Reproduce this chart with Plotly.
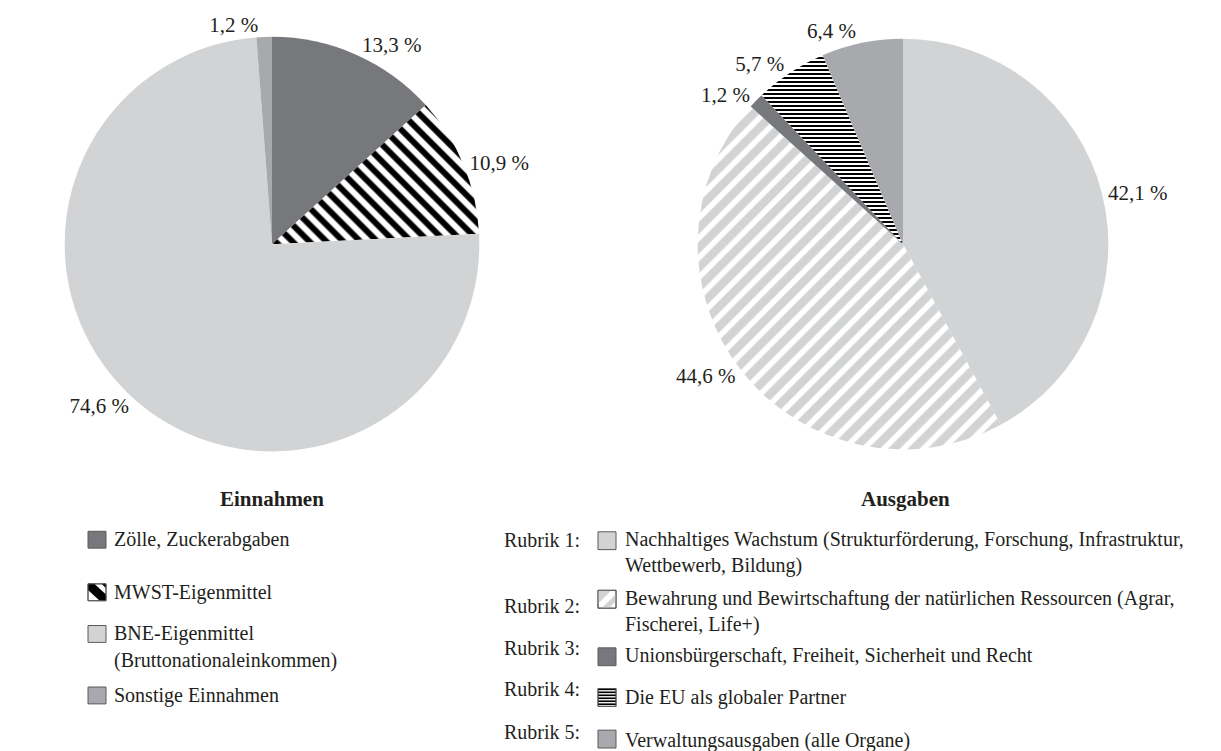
import plotly.graph_objects as go

# ---------------- data ----------------
ein_labels = ["Zölle, Zuckerabgaben", "MWST-Eigenmittel", "BNE-Eigenmittel", "Sonstige Einnahmen"]
ein_values = [13.3, 10.9, 74.6, 1.2]

aus_labels = ["Rubrik 1", "Rubrik 2", "Rubrik 3", "Rubrik 4", "Rubrik 5"]
aus_values = [42.1, 44.6, 1.2, 5.7, 6.4]

ein_title = "Einnahmen"
aus_title = "Ausgaben"

ein_legend = [["Zölle, Zuckerabgaben"], ["MWST-Eigenmittel"],
              ["BNE-Eigenmittel", "(Bruttonationaleinkommen)"], ["Sonstige Einnahmen"]]
aus_rubrik = ["Rubrik 1:", "Rubrik 2:", "Rubrik 3:", "Rubrik 4:", "Rubrik 5:"]
aus_legend = [["Nachhaltiges Wachstum (Strukturförderung, Forschung, Infrastruktur,", "Wettbewerb, Bildung)"],
              ["Bewahrung und Bewirtschaftung der natürlichen Ressourcen (Agrar,", "Fischerei, Life+)"],
              ["Unionsbürgerschaft, Freiheit, Sicherheit und Recht"],
              ["Die EU als globaler Partner"],
              ["Verwaltungsausgaben (alle Organe)"]]

# ---------------- style ----------------
OFF = 8  # default page body margin
W, H = 1221 - OFF, 751 - OFF
FONT = "Liberation Serif"
TXT = "#231f20"
DARK = "#77787b"
LIGHT = "#d1d3d4"
MID = "#a7a9ac"
LEG_SIZE = 20


def px(x):
    return (x - OFF) / W


def py(y):
    return 1 - (y - OFF) / H


def fmt(v):
    return f"{v:.1f}".replace(".", ",") + " %"


fig = go.Figure()

fig.add_trace(go.Pie(
    labels=ein_labels, values=ein_values, sort=False, direction="clockwise", rotation=0,
    text=[fmt(v) for v in ein_values], textinfo="text", textposition="outside",
    outsidetextfont=dict(family=FONT, size=21, color=TXT),
    marker=dict(colors=[DARK, "white", LIGHT, MID], line=dict(width=0),
                pattern=dict(shape=["", "\\", "", ""],
                             fgcolor=[DARK, "black", LIGHT, MID],
                             bgcolor=[DARK, "white", LIGHT, MID],
                             size=[8, 12, 8, 8], solidity=[0.5, 0.5, 0.5, 0.5])),
    domain=dict(x=[px(63), px(481)], y=[py(449), py(31)]),
    showlegend=False, hoverinfo="skip"))

fig.add_trace(go.Pie(
    labels=aus_labels, values=aus_values, sort=False, direction="clockwise", rotation=0,
    text=[fmt(v) for v in aus_values], textinfo="text", textposition="outside",
    outsidetextfont=dict(family=FONT, size=21, color=TXT),
    marker=dict(colors=[LIGHT, "white", DARK, "white", MID], line=dict(width=0),
                pattern=dict(shape=["", "/", "", "-", ""],
                             fgcolor=[LIGHT, LIGHT, DARK, "black", MID],
                             bgcolor=[LIGHT, "white", DARK, "white", MID],
                             size=[8, 14, 8, 4, 8], solidity=[0.5, 0.6, 0.5, 0.5, 0.5])),
    domain=dict(x=[px(696), px(1110)], y=[py(447), py(33)]),
    showlegend=False, hoverinfo="skip"))

annotations = []
shapes = []


def text(x, y, s, anchor="left", bold=False, size=LEG_SIZE):
    annotations.append(dict(
        x=px(x), y=py(y), xref="paper", yref="paper", xanchor=anchor, yanchor="middle",
        text=f"<b>{s}</b>" if bold else s, showarrow=False,
        font=dict(family=FONT, size=size, color=TXT)))


def rect(x0, y0, x1, y1, fill):
    shapes.append(dict(type="rect", xref="paper", yref="paper",
                       x0=px(x0), x1=px(x1), y0=py(y1), y1=py(y0),
                       fillcolor=fill, line=dict(color="#5a5a5c", width=1)))


def poly(pts, fill):
    path = "M " + " L ".join(f"{px(a)},{py(b)}" for a, b in pts) + " Z"
    shapes.append(dict(type="path", xref="paper", yref="paper", path=path,
                       fillcolor=fill, line=dict(width=0)))


# titles
text(272, 497, ein_title, anchor="center", bold=True, size=21)
text(905, 497, aus_title, anchor="center", bold=True, size=21)

# ---- left legend ----
sw_x0, sw_x1 = 88, 106
left_rows = [538, 591, 633, 695]
for i, (lines, yc) in enumerate(zip(ein_legend, left_rows)):
    y0, y1 = yc - 8.5, yc + 8.5
    s = sw_x1 - sw_x0
    if i == 1:
        rect(sw_x0, y0, sw_x1, y1, "white")
        poly([(sw_x0, y0), (sw_x0 + 0.35 * s, y0), (sw_x1, y1 - 0.35 * s), (sw_x1, y1),
              (sw_x1 - 0.35 * s, y1), (sw_x0, y0 + 0.35 * s)], "black")
        poly([(sw_x0 + 0.75 * s, y0), (sw_x1, y0), (sw_x1, y0 + 0.25 * s)], "black")
        rect(sw_x0, y0, sw_x1, y1, "rgba(0,0,0,0)")
    else:
        rect(sw_x0, y0, sw_x1, y1, [DARK, None, LIGHT, MID][i])
    for k, ln in enumerate(lines):
        text(112, yc + 27 * k, ln)

# ---- right legend ----
rx0, rx1 = 598, 616
right_text_y = [538, 597, 655, 697, 740]
right_label_y = [538, 605, 647, 688, 732]
right_swatch_y = [539, 598, 656, 697, 739]
for i in range(5):
    text(582, right_label_y[i], aus_rubrik[i], anchor="right")
    yc = right_swatch_y[i]
    y0, y1 = yc - 9, yc + 9
    s = rx1 - rx0
    if i == 1:
        rect(rx0, y0, rx1, y1, "white")
        poly([(rx0, y0), (rx0 + 0.75 * s, y0), (rx0, y0 + 0.75 * s)], LIGHT)
        poly([(rx1, y0 + 0.2 * s), (rx1, y0 + 0.6 * s), (rx0 + 0.6 * s, y1), (rx0 + 0.2 * s, y1)], LIGHT)
        rect(rx0, y0, rx1, y1, "rgba(0,0,0,0)")
    elif i == 3:
        rect(rx0, y0, rx1, y1, "white")
        n = 6
        for k in range(n):
            ya = y0 + k * (y1 - y0) / n
            hh = (y1 - y0) / n * 0.55
            poly([(rx0, ya), (rx1, ya), (rx1, ya + hh), (rx0, ya + hh)], "black")
        rect(rx0, y0, rx1, y1, "rgba(0,0,0,0)")
    else:
        rect(rx0, y0, rx1, y1, [LIGHT, None, DARK, None, MID][i])
    for k, ln in enumerate(aus_legend[i]):
        text(623, right_text_y[i] + 26 * k, ln)

fig.update_layout(
    width=W, height=H, margin=dict(l=0, r=0, t=0, b=0),
    paper_bgcolor="white", plot_bgcolor="white",
    font=dict(family=FONT, size=21, color=TXT),
    annotations=annotations, shapes=shapes, showlegend=False)

fig.write_html("out.html")
